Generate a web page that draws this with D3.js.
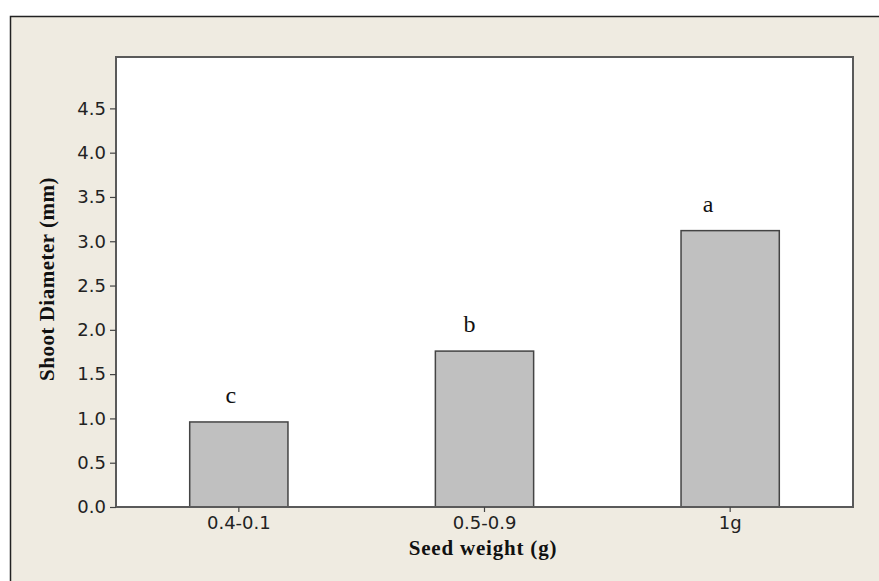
<!DOCTYPE html>
<html lang="en">
<head>
    <meta charset="UTF-8">
    <title>Shoot Diameter by Seed Weight</title>
    <script src="https://cdn.jsdelivr.net/npm/d3@7"></script>
    <style>
        body { margin: 0; background: #fff; }
    </style>
</head>
<body>
<div id="chart"></div>
<script>

    // data
    const categories = ["0.4-0.1", "0.5-0.9", "1g"];
    const diameters = [0.96, 1.76, 3.12];
    const groupLetters = ["c", "b", "a"];
    const yTicks = [0.0, 0.5, 1.0, 1.5, 2.0, 2.5, 3.0, 3.5, 4.0, 4.5];

    const width = 879;
    const height = 581;
    const margin = {top: 57, right: 26, bottom: 74, left: 116};

    const serif = "'Liberation Serif', 'Times New Roman', serif";
    const sans = "'DejaVu Sans', Verdana, sans-serif";

    const svg = d3.select("#chart")
        .append("svg")
        .attr("width", width)
        .attr("height", height);

    // beige panel with dark edge on top/left
    svg.append("rect")
        .attr("x", 10).attr("y", 16)
        .attr("width", width - 10).attr("height", height - 16)
        .attr("fill", "#efebe1");
    svg.append("path")
        .attr("d", `M10.5,${height} V16.5 H${width}`)
        .attr("fill", "none")
        .attr("stroke", "#222")
        .attr("stroke-width", 1.5);

    const x = d3.scaleBand()
        .domain(categories)
        .range([margin.left, width - margin.right])
        .paddingInner(0.6)
        .paddingOuter(0.3);

    const y = d3.scaleLinear()
        .domain([0, 5.08])
        .range([height - margin.bottom, margin.top]);

    // plot area
    svg.append("rect")
        .attr("x", margin.left)
        .attr("y", margin.top)
        .attr("width", width - margin.left - margin.right)
        .attr("height", height - margin.top - margin.bottom)
        .attr("fill", "#fff");

    // bars
    svg.append("g")
        .selectAll("rect")
        .data(diameters)
        .join("rect")
        .attr("x", (d, i) => x(categories[i]))
        .attr("y", d => y(d))
        .attr("width", x.bandwidth())
        .attr("height", d => y(0) - y(d))
        .attr("fill", "#c0c0c0")
        .attr("stroke", "#444")
        .attr("stroke-width", 1.5);

    // significance letters
    svg.append("g")
        .selectAll("text")
        .data(diameters)
        .join("text")
        .attr("x", (d, i) => x(categories[i]) + x.bandwidth() / 2 - 8 - 7 * i)
        .attr("y", d => y(d) - 19)
        .attr("text-anchor", "middle")
        .style("font-family", serif)
        .style("font-size", "24px")
        .attr("fill", "#111")
        .text((d, i) => groupLetters[i]);

    // frame on top of bars
    svg.append("rect")
        .attr("x", margin.left)
        .attr("y", margin.top)
        .attr("width", width - margin.left - margin.right)
        .attr("height", height - margin.top - margin.bottom)
        .attr("fill", "none")
        .attr("stroke", "#5a5a5a")
        .attr("stroke-width", 2);

    const gy = svg.append("g")
        .attr("transform", `translate(${margin.left},0)`)
        .call(d3.axisLeft(y).tickValues(yTicks).tickFormat(d3.format(".1f"))
            .tickSize(6).tickPadding(4))
        .call(g => g.select(".domain").remove());
    gy.selectAll(".tick line").attr("stroke", "#444").attr("stroke-width", 1.2);
    gy.selectAll(".tick text")
        .style("font-family", sans).style("font-size", "18px").attr("fill", "#222");

    const gx = svg.append("g")
        .attr("transform", `translate(0,${height - margin.bottom})`)
        .call(d3.axisBottom(x).tickSize(5).tickPadding(4))
        .call(g => g.select(".domain").remove());
    gx.selectAll(".tick line").attr("stroke", "#444").attr("stroke-width", 1.2);
    gx.selectAll(".tick text")
        .style("font-family", sans).style("font-size", "18px").attr("fill", "#222");

    // axis titles
    svg.append("text")
        .attr("x", 483)
        .attr("y", 555)
        .attr("text-anchor", "middle")
        .style("font-family", serif)
        .style("font-weight", "bold")
        .style("font-size", "21px")
        .attr("letter-spacing", 0.8)
        .attr("fill", "#111")
        .text("Seed weight (g)");

    svg.append("text")
        .attr("transform", `translate(54,279) rotate(-90)`)
        .attr("text-anchor", "middle")
        .style("font-family", serif)
        .style("font-weight", "bold")
        .style("font-size", "21px")
        .attr("letter-spacing", 0.5)
        .attr("fill", "#111")
        .text("Shoot Diameter (mm)");

</script>
</body>
</html>
